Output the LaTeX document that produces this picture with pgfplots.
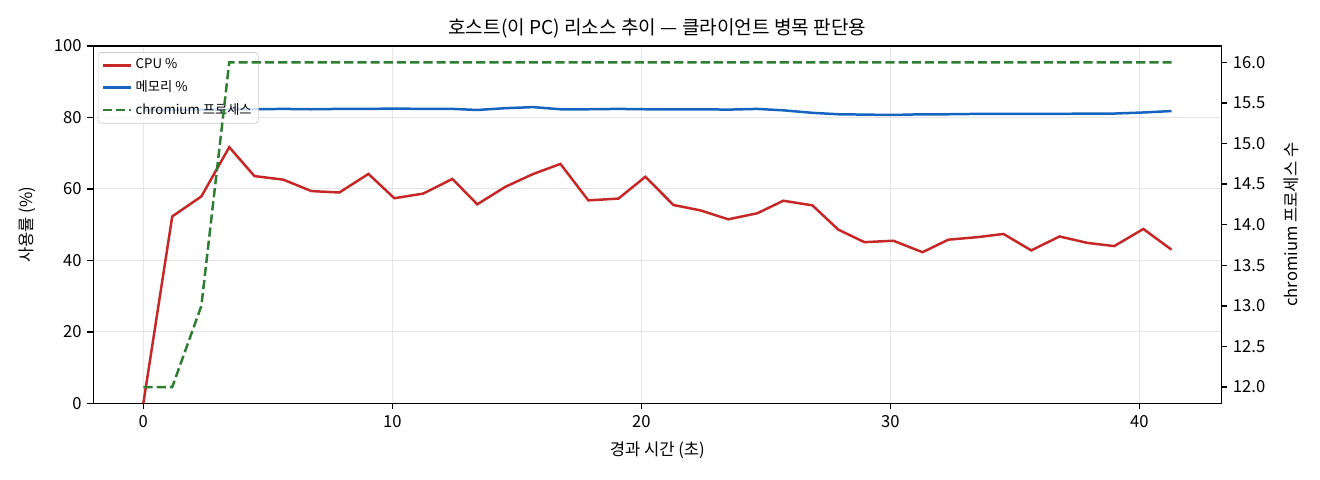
\documentclass[border=0pt]{standalone}
\usepackage{pgfplots}
\usepackage{pgfplotstable}
\pgfplotsset{compat=1.18}
\usepackage{fontspec}
\setmainfont{Noto Sans CJK KR}

\definecolor{cpured}{HTML}{C62828}
\definecolor{memblue}{HTML}{1565C0}
\definecolor{procgreen}{HTML}{2E7D32}

\pgfplotstableread{
t     cpu   mem   proc
0.00  0.0   82.0  12
1.16  52.3  82.1  12
2.33  57.9  82.2  13
3.45  71.7  82.2  16
4.46  63.6  82.3  16
5.62  62.6  82.4  16
6.75  59.4  82.3  16
7.87  59.0  82.4  16
9.04  64.2  82.4  16
10.08 57.4  82.5  16
11.24 58.7  82.4  16
12.41 62.8  82.4  16
13.41 55.7  82.1  16
14.54 60.6  82.6  16
15.66 64.2  82.9  16
16.75 67.0  82.3  16
17.87 56.8  82.3  16
19.08 57.3  82.4  16
20.16 63.4  82.3  16
21.29 55.5  82.3  16
22.37 54.0  82.3  16
23.49 51.5  82.2  16
24.66 53.2  82.4  16
25.70 56.7  82.0  16
26.87 55.4  81.3  16
27.91 48.6  80.9  16
28.96 45.1  80.8  16
30.12 45.5  80.7  16
31.29 42.3  80.9  16
32.33 45.8  80.9  16
33.49 46.5  81.0  16
34.54 47.4  81.0  16
35.66 42.8  81.0  16
36.79 46.7  81.0  16
37.91 44.9  81.1  16
38.99 44.0  81.1  16
40.16 48.8  81.4  16
41.29 43.0  81.8  16
}\hostdata

\pgfplotsset{
  common/.style={
    at={(0.7775in,0.639in)}, anchor=south west,
    scale only axis, width=9.4in, height=2.9775in,
    xmin=-2.01, xmax=43.29,
    tick align=outside, major tick length=3.5pt,
    every tick/.style={black, line width=0.8pt},
    axis line style={line width=0.8pt},
    tick label style={font=\fontsize{10}{12}\selectfont},
    label style={font=\fontsize{10}{12}\selectfont},
    /pgf/number format/assume math mode=true,
    ylabel shift=4pt,
  },
}

\begin{document}
\begin{tikzpicture}
\path[use as bounding box] (0,0) rectangle (11in,4in);
\begin{axis}[
  common,
  ymin=0, ymax=100,
  xtick={0,10,20,30,40}, ytick={0,20,40,60,80,100},
  xtick pos=bottom, ytick pos=left,
  grid=major, grid style={color=black!10, line width=0.6pt},
  title={호스트(이 PC) 리소스 추이 — 클라이언트 병목 판단용},
  title style={font=\fontsize{11.5}{13}\selectfont, yshift=-5pt},
  xlabel={경과 시간 (초)},
  xlabel shift=2pt,
  ylabel={사용률 (\%)},
  legend style={at={(0.004,0.983)}, anchor=north west,
    font=\fontsize{8}{10}\selectfont, draw=black!20, rounded corners=2pt,
    fill=white, fill opacity=0.8, draw opacity=1, text opacity=1,
    row sep=1.5pt, inner sep=2pt},
  legend cell align=left,
]
\addplot[cpured, line width=1.5pt] table[x=t, y=cpu] {\hostdata};
\addlegendentry{CPU \%}
\addplot[memblue, line width=1.5pt] table[x=t, y=mem] {\hostdata};
\addlegendentry{메모리 \%}
\addlegendimage{procgreen, line width=1.5pt, dash pattern=on 5.55pt off 2.4pt}
\addlegendentry{chromium 프로세스}
\end{axis}
\begin{axis}[
  common,
  ymin=11.8, ymax=16.2,
  axis y line*=right, axis x line=none,
  ytick={12,12.5,...,16},
  yticklabel style={/pgf/number format/.cd, fixed, fixed zerofill, precision=1},
  ylabel={chromium 프로세스 수},
]
\addplot[procgreen, line width=1.5pt, dash pattern=on 5.55pt off 2.4pt] table[x=t, y=proc] {\hostdata};
\end{axis}
\end{tikzpicture}
\end{document}
